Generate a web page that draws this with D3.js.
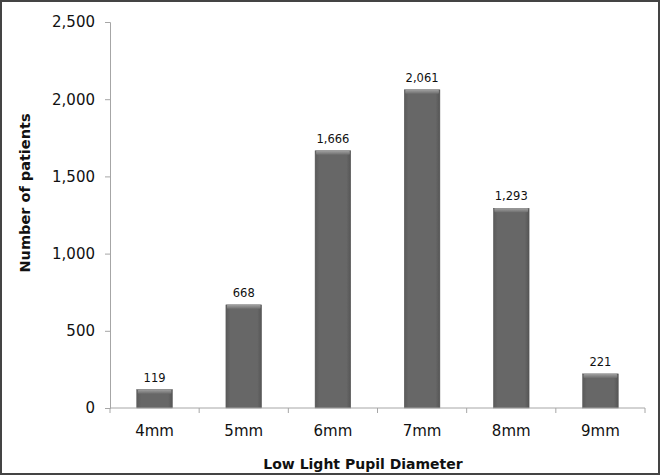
<!DOCTYPE html>
<html>
<head>
<meta charset="utf-8">
<script src="https://cdn.jsdelivr.net/npm/d3@7"></script>
<style>
  html, body { margin: 0; padding: 0; background: #fff; }
  svg { display: block; }
</style>
</head>
<body>
<div id="chart"></div>
<script>
(function() {
    'use strict';

    var categories = ['4mm', '5mm', '6mm', '7mm', '8mm', '9mm'];
    var patients = [119, 668, 1666, 2061, 1293, 221];
    var yTicks = [0, 500, 1000, 1500, 2000, 2500];

    var width = 660, height = 475;
    var margin = { top: 22, right: 15, bottom: 67, left: 110 };
    var fontFamily = '"DejaVu Sans", Verdana, sans-serif';

    var svg = d3.select('#chart').append('svg')
        .attr('width', width)
        .attr('height', height);

    var defs = svg.append('defs');
    var barGrad = defs.append('linearGradient')
        .attr('id', 'barGrad')
        .attr('x1', '0%').attr('x2', '100%').attr('y1', '0%').attr('y2', '0%');
    barGrad.append('stop').attr('offset', '0%').attr('stop-color', '#5a5a5a');
    barGrad.append('stop').attr('offset', '12%').attr('stop-color', '#676767');
    barGrad.append('stop').attr('offset', '88%').attr('stop-color', '#676767');
    barGrad.append('stop').attr('offset', '100%').attr('stop-color', '#555');

    var capGrad = defs.append('linearGradient')
        .attr('id', 'capGrad')
        .attr('x1', '0%').attr('x2', '0%').attr('y1', '0%').attr('y2', '100%');
    capGrad.append('stop').attr('offset', '0%').attr('stop-color', '#a0a0a0');
    capGrad.append('stop').attr('offset', '100%').attr('stop-color', '#6e6e6e');

    // outer frame
    svg.append('rect')
        .attr('x', 1).attr('y', 1)
        .attr('width', width - 2).attr('height', height - 2)
        .attr('fill', 'none')
        .attr('stroke', '#444')
        .attr('stroke-width', 2);

    var x = d3.scaleBand()
        .domain(categories)
        .range([margin.left, width - margin.right])
        .paddingInner(0.6)
        .paddingOuter(0.3);

    var y = d3.scaleLinear()
        .domain([0, 2500])
        .range([height - margin.bottom, margin.top]);

    var g = svg.append('g');

    // bars
    var bar = g.selectAll('g.bar')
        .data(categories)
        .join('g')
        .attr('class', 'bar');

    bar.append('rect')
        .attr('x', function(d) { return x(d); })
        .attr('y', function(d, i) { return y(patients[i]); })
        .attr('width', x.bandwidth())
        .attr('height', function(d, i) { return y(0) - y(patients[i]); })
        .attr('fill', 'url(#barGrad)')
        .attr('stroke', '#555')
        .attr('stroke-width', 0.5);

    bar.append('rect')
        .attr('x', function(d) { return x(d) + 1; })
        .attr('y', function(d, i) { return y(patients[i]); })
        .attr('width', x.bandwidth() - 2)
        .attr('height', 4)
        .attr('rx', 1)
        .attr('fill', 'url(#capGrad)');

    // value labels
    bar.append('text')
        .attr('x', function(d) { return x(d) + x.bandwidth() / 2; })
        .attr('y', function(d, i) { return y(patients[i]) - 8; })
        .attr('text-anchor', 'middle')
        .style('font', '11.5px ' + fontFamily)
        .attr('fill', '#111')
        .text(function(d, i) { return d3.format(',')(patients[i]); });

    // x axis
    var xAxis = g.append('g')
        .attr('transform', 'translate(0,' + y(0) + ')');
    xAxis.append('line')
        .attr('x1', margin.left).attr('x2', width - margin.right)
        .attr('stroke', '#a6a6a6');
    var xEdges = categories.map(function(c) { return x(c) - x.step() * x.paddingInner() / 2; })
        .concat([width - margin.right]);
    xAxis.selectAll('line.tick')
        .data(xEdges)
        .join('line')
        .attr('class', 'tick')
        .attr('x1', function(d) { return d; }).attr('x2', function(d) { return d; })
        .attr('y1', 0).attr('y2', 5)
        .attr('stroke', '#a6a6a6');
    xAxis.selectAll('text')
        .data(categories)
        .join('text')
        .attr('x', function(d) { return x(d) + x.bandwidth() / 2; })
        .attr('y', 28)
        .attr('text-anchor', 'middle')
        .style('font', '15px ' + fontFamily)
        .attr('fill', '#111')
        .text(function(d) { return d; });

    // y axis
    var yAxis = g.append('g')
        .attr('transform', 'translate(' + margin.left + ',0)')
        .call(d3.axisLeft(y).tickValues(yTicks).tickFormat(d3.format(',')).tickSize(5).tickPadding(10));
    yAxis.select('.domain').attr('stroke', '#a6a6a6');
    yAxis.selectAll('.tick line').attr('stroke', '#a6a6a6');
    yAxis.selectAll('.tick text')
        .style('font', '15px ' + fontFamily)
        .attr('fill', '#111');

    // axis titles
    svg.append('text')
        .attr('x', 363)
        .attr('y', 469)
        .attr('text-anchor', 'middle')
        .style('font', 'bold 14px ' + fontFamily)
        .attr('fill', '#111')
        .text('Low Light Pupil Diameter');

    svg.append('text')
        .attr('transform', 'translate(30,193) rotate(-90)')
        .attr('text-anchor', 'middle')
        .style('font', 'bold 14.5px ' + fontFamily)
        .attr('fill', '#111')
        .text('Number of patients');
})();
</script>
</body>
</html>
